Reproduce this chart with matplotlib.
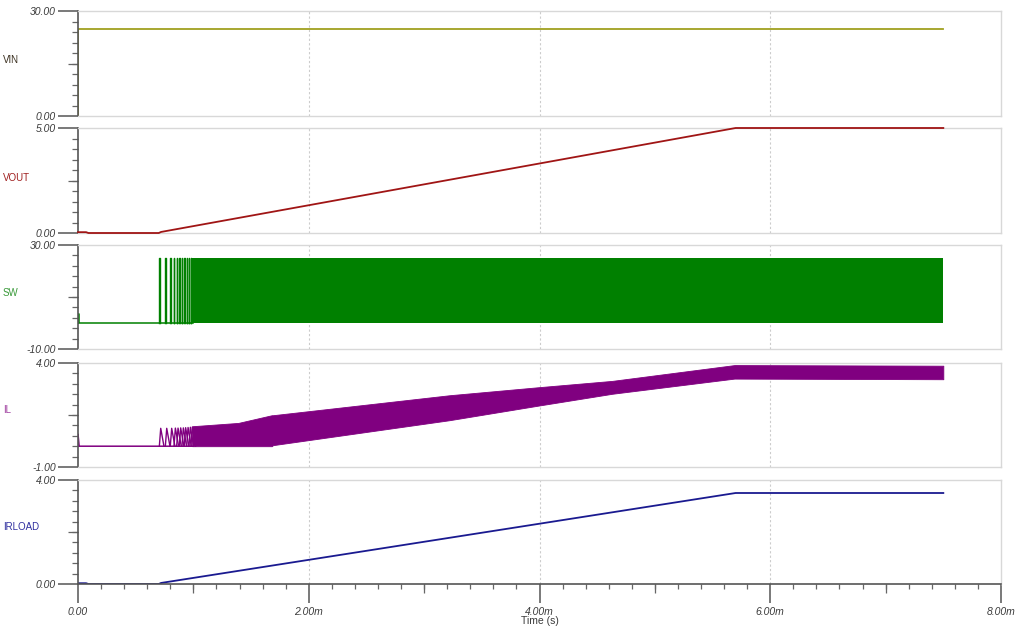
import matplotlib
matplotlib.use("Agg")
import matplotlib.pyplot as plt
from matplotlib.ticker import FixedLocator, NullFormatter

plt.rcParams['font.family'] = ['Liberation Sans', 'DejaVu Sans']

# ---------------- data (time in ms) ----------------
names = ["VIN", "VOUT", "SW", "IL", "IRLOAD"]
y_lo = [0.0, 0.0, -10.0, -1.0, 0.0]
y_hi = [30.0, 5.0, 30.0, 4.0, 4.0]
y_lo_labels = ["0.00", "0.00", "-10.00", "-1.00", "0.00"]
y_hi_labels = ["30.00", "5.00", "30.00", "4.00", "4.00"]

vin_t = [0.0, 0.0, 7.5]
vin_v = [0.0, 25.0, 25.0]

vout_t = [0.0, 0.07, 0.09, 0.70, 0.72, 5.70, 7.50]
vout_v = [0.04, 0.04, 0.0, 0.0, 0.05, 5.0, 5.0]

irload_t = [0.0, 0.07, 0.09, 0.70, 0.72, 5.70, 7.50]
irload_v = [0.03, 0.03, 0.0, 0.0, 0.04, 3.5, 3.5]

# SW: isolated start-up pulses, then dense switching (envelope)
sw_base_t = [0.0, 0.0, 0.01, 0.01, 1.0]
sw_base_v = [0.0, 3.4, 3.4, 0.0, 0.0]
sw_pulse_t = [0.705, 0.757, 0.800, 0.832, 0.855, 0.878, 0.901, 0.921, 0.942, 0.962, 0.979]
sw_high = 25.0
sw_dense_t = [0.99, 7.50]
sw_dense_lo = [0.0, 0.0]
sw_dense_hi = [25.0, 25.0]

# IL: start spike, isolated triangular pulses, then ripple envelope
il_base_t = [0.0, 0.0, 0.01, 1.0]
il_base_v = [0.0, 0.58, 0.0, 0.0]
il_pulse_t = sw_pulse_t
il_pulse_peak = [0.86, 0.86, 0.86, 0.87, 0.87, 0.88, 0.88, 0.89, 0.90, 0.91, 0.92]
il_env_t = [0.99, 1.39, 1.68, 1.69, 3.22, 4.00, 4.63, 5.69, 7.50]
il_env_hi = [0.96, 1.12, 1.49, 1.49, 2.45, 2.84, 3.14, 3.90, 3.87]
il_env_lo = [0.0, 0.0, 0.0, 0.05, 1.25, 1.96, 2.52, 3.25, 3.22]

x_major = [0, 2, 4, 6, 8]
x_major_labels = ["0.00", "2.00m", "4.00m", "6.00m", "8.00m"]
x_mid = [1, 3, 5, 7]

line_colors = ["#a0a020", "#a01515", "#008000", "#800080", "#1a1a90"]
label_colors = ["#3b3020", "#a02020", "#3a9a3a", "#a040a0", "#3030a0"]

# ---------------- layout ----------------
W, H = 1024, 627
PX = 0.72  # points per pixel at 100 dpi
fig = plt.figure(figsize=(W / 100, H / 100), dpi=100)
left_px, right_px = 78, 1001
panel_px = [(11, 116), (128, 233), (245, 349), (363, 467), (480, 584)]
label_y_px = [60, 178, 293, 410, 527]
tick_fs = 7.5
label_fs = 7.0

axes = []
for i, (top, bot) in enumerate(panel_px):
    ax = fig.add_axes([left_px / W, 1 - bot / H, (right_px - left_px) / W, (bot - top) / H])
    axes.append(ax)
    lo, hi = y_lo[i], y_hi[i]
    ax.set_xlim(0, 8)
    ax.set_ylim(lo, hi)
    for s in ["top", "right", "bottom"]:
        ax.spines[s].set_color("#d8d8d8")
        ax.spines[s].set_linewidth(1.0)
    ax.spines["left"].set_color("#555555")
    ax.spines["left"].set_linewidth(1.2)
    # y ticks
    ax.yaxis.set_major_locator(FixedLocator([lo, hi]))
    ax.set_yticklabels([y_lo_labels[i], y_hi_labels[i]])
    ax.yaxis.set_minor_locator(FixedLocator([lo + (hi - lo) * k / 10 for k in range(1, 10)]))
    ax.tick_params(axis="y", which="major", length=20 * PX, width=1.1, color="#555555",
                   labelsize=tick_fs, labelcolor="#3a3a3a", pad=2 * PX)
    ax.tick_params(axis="y", which="minor", length=6 * PX, width=0.9, color="#666666")
    for lab in ax.get_yticklabels():
        lab.set_fontstyle("italic")
    sec = ax.secondary_yaxis("left")
    sec.set_yticks([(lo + hi) / 2])
    sec.yaxis.set_major_formatter(NullFormatter())
    sec.tick_params(length=10 * PX, width=0.9, color="#666666")
    sec.spines["left"].set_visible(False)
    # vertical grid
    for g in [2, 4, 6]:
        ax.axvline(g, color="#cccccc", lw=0.8, ls=(0, (2, 2)), zorder=0)
    if i < 4:
        ax.tick_params(axis="x", which="both", bottom=False, labelbottom=False)
    fig.text(3 / W, 1 - label_y_px[i] / H, names[i], color=label_colors[i],
             fontsize=label_fs, ha="left", va="center")

# bottom axis styling
axb = axes[4]
axb.spines["bottom"].set_color("#555555")
axb.spines["bottom"].set_linewidth(1.2)
axb.xaxis.set_major_locator(FixedLocator(x_major))
axb.set_xticklabels(x_major_labels)
axb.xaxis.set_minor_locator(FixedLocator([k * 0.2 for k in range(41)]))
axb.tick_params(axis="x", which="major", length=19 * PX, width=1.1, color="#555555",
                labelsize=tick_fs, labelcolor="#3a3a3a", pad=4 * PX)
axb.tick_params(axis="x", which="minor", length=5 * PX, width=0.9, color="#666666")
for lab in axb.get_xticklabels():
    lab.set_fontstyle("italic")
secx = axb.secondary_xaxis("bottom")
secx.set_xticks(x_mid)
secx.xaxis.set_major_formatter(NullFormatter())
secx.tick_params(length=9 * PX, width=0.9, color="#666666")
secx.spines["bottom"].set_visible(False)
fig.text((left_px + (right_px - left_px) / 2) / W, 1 - 621 / H, "Time (s)",
         fontsize=tick_fs, color="#3a3a3a", ha="center", va="center")

# ---------------- traces ----------------
lw = 1.3
axes[0].plot(vin_t, vin_v, color=line_colors[0], lw=lw)
axes[1].plot(vout_t, vout_v, color=line_colors[1], lw=lw, clip_on=False, zorder=3)
axes[4].plot(irload_t, irload_v, color=line_colors[4], lw=lw)

# SW
ax = axes[2]
ax.plot(sw_base_t, sw_base_v, color=line_colors[2], lw=1.1)
for t in sw_pulse_t:
    ax.plot([t, t, t + 0.004, t + 0.004], [0, sw_high, sw_high, 0], color=line_colors[2], lw=1.0)
ax.fill_between(sw_dense_t, sw_dense_lo, sw_dense_hi, color=line_colors[2], lw=0)

# IL
ax = axes[3]
ax.plot(il_base_t, il_base_v, color=line_colors[3], lw=1.1)
for t, p in zip(il_pulse_t, il_pulse_peak):
    ax.plot([t, t + 0.012, t + 0.04], [0, p, 0], color=line_colors[3], lw=1.0)
ax.fill_between(il_env_t, il_env_lo, il_env_hi, color=line_colors[3], lw=0.6,
                edgecolor=line_colors[3])

fig.savefig("out.png", dpi=100)
